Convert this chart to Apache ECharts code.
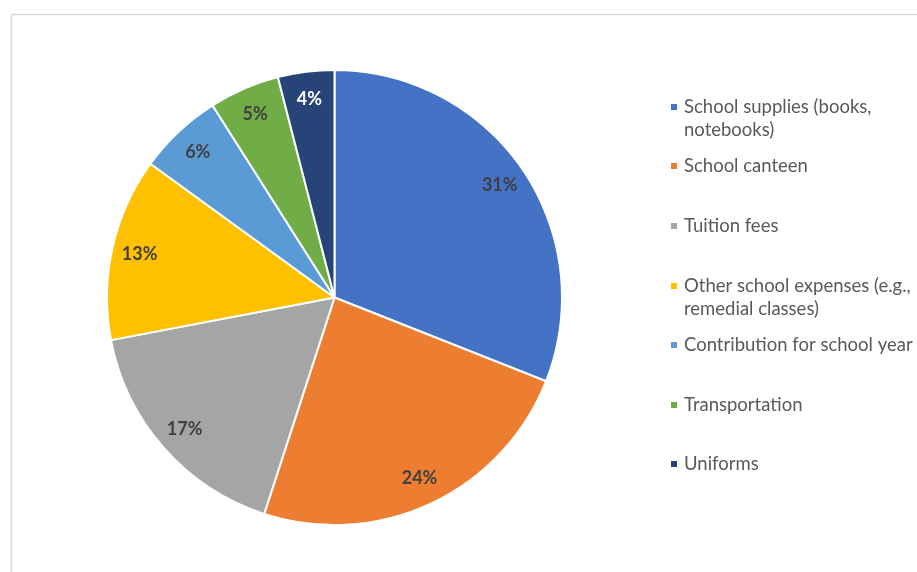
<!DOCTYPE html>
<html>
<head>
<meta charset="utf-8">
<script src="https://cdn.jsdelivr.net/npm/echarts@6/dist/echarts.min.js"></script>
<style>
  html, body { margin: 0; padding: 0; background: #ffffff; }
  #chart { width: 917px; height: 572px; }
</style>
</head>
<body>
<div id="chart"></div>
<script>
// School expense shares (percent)
const categories = [
  'School supplies (books,\nnotebooks)',
  'School canteen',
  'Tuition fees',
  'Other school expenses (e.g.,\nremedial classes)',
  'Contribution for school year',
  'Transportation',
  'Uniforms'
];
const shares = [31, 24, 17, 13, 6, 5, 4];
const colors = ['#4472C4', '#ED7D31', '#A5A5A5', '#FFC000', '#5B9BD5', '#70AD47', '#264478'];
const labelColors = ['#404040', '#404040', '#404040', '#404040', '#404040', '#404040', '#ffffff'];

const FONT = 'Lato, "Open Sans", sans-serif';
const center = [334.5, 297.5];
const R = 227.5;

const pieData = categories.map((name, i) => ({
  name: name,
  value: shares[i],
  itemStyle: { color: colors[i] }
}));

const labelData = categories.map((name, i) => ({
  name: name,
  value: shares[i],
  label: { color: labelColors[i] }
}));

// One legend block per entry, spaced evenly down the right side
const legendFirstLine = [107, 166, 226, 286, 345, 405, 464];
const LH = 23;
const legends = categories.map((name, i) => {
  const twoLines = name.indexOf('\n') >= 0;
  return {
    data: [name],
    orient: 'vertical',
    left: 669,
    top: legendFirstLine[i] - (twoLines ? 1.5 * LH : 0.5 * LH),
    padding: 0,
    icon: 'rect',
    itemWidth: 8,
    itemHeight: 8,
    itemGap: 0,
    selectedMode: false,
    formatter: (n) => (n.indexOf('\n') >= 0 ? '\n' + n : n),
    textStyle: {
      fontFamily: FONT,
      fontSize: 18.5,
      lineHeight: LH,
      color: '#595959',
      padding: [0, 0, 0, 1]
    }
  };
});

const chart = echarts.init(document.getElementById('chart'), null, { renderer: 'canvas' });
chart.setOption({
  backgroundColor: '#ffffff',
  animation: false,
  graphic: [{
    type: 'rect',
    shape: { x: 11.5, y: 14.5, width: 940, height: 600 },
    style: { fill: 'none', stroke: '#d9d9d9', lineWidth: 1.5 },
    silent: true,
    z: -10
  }],
  legend: legends,
  series: [
    {
      type: 'pie',
      center: center,
      radius: [0, R],
      startAngle: 90,
      clockwise: true,
      avoidLabelOverlap: false,
      label: { show: false },
      labelLine: { show: false },
      itemStyle: { borderColor: '#ffffff', borderWidth: 2 },
      emphasis: { disabled: true },
      data: pieData
    },
    {
      // transparent ring carrying the percentage labels near the rim
      type: 'pie',
      center: center,
      radius: [166, R],
      startAngle: 90,
      clockwise: true,
      avoidLabelOverlap: false,
      silent: true,
      legendHoverLink: false,
      itemStyle: { color: 'rgba(0,0,0,0)' },
      labelLine: { show: false },
      emphasis: { disabled: true },
      label: {
        show: true,
        position: 'inside',
        formatter: '{c}%',
        fontFamily: FONT,
        fontSize: 18,
        fontWeight: 'bold'
      },
      data: labelData
    }
  ]
});
</script>
</body>
</html>
